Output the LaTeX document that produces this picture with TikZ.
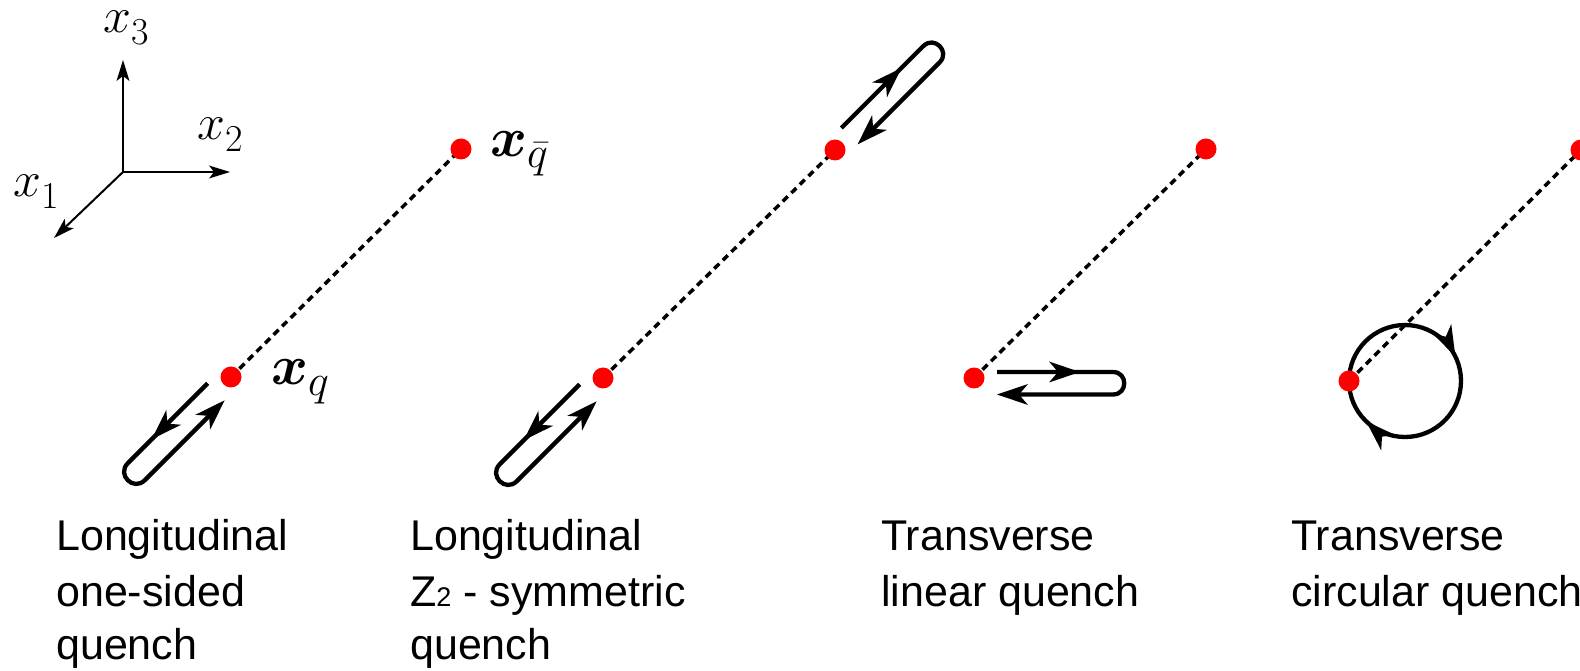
\RequirePackage{fix-cm}
\documentclass[tikz,border=0pt]{standalone}
\usepackage[no-math]{fontspec}
\usepackage{bm}
\newfontfamily\capfont{Liberation Sans}
\newcommand{\mysub}[3]{\raisebox{-#3}{\fontsize{#1}{#1}\selectfont$#2$}}
\usetikzlibrary{decorations.markings}

\newcommand{\hairpin}[7]{% dot, angle, a (outgoing offset), b (return offset), start, end, mid-arrow tip
  \begin{scope}[shift={(#1)},rotate=#2]
    \pgfmathsetmacro\hpk{abs((#3)-(#4))*2/3}
    \draw[hp] (#5,#3) -- (#6,#3) .. controls (#6+\hpk,#3) and (#6+\hpk,#4) .. (#6,#4) -- (#5+12,#4);
    \pic[transform shape] at (#7,#3) {bighead};
    \pic[transform shape,rotate=180] at (#5,#4) {bighead};
  \end{scope}}

\begin{document}
\begin{tikzpicture}[x=1pt,y=1pt,
  axisln/.style={line width=2pt,shorten >=8pt},
  dashln/.style={line width=3.5pt,dash pattern=on 7pt off 5pt},
  dot/.style={circle,fill=red,draw=none,inner sep=0pt,minimum size=21pt},
  hp/.style={line width=4.3pt},
  bighead/.pic={\fill (0,0) -- (-31,10.5) -- (-22,0) -- (-31,-10.5) -- cycle;},
  axhead/.pic={\fill (0,0) -- (-21,6.5) -- (-16,0) -- (-21,-6.5) -- cycle;},
  captxt/.style={anchor=base west,inner sep=0pt,font=\capfont\fontsize{43}{56}\selectfont},
  mlab/.style={anchor=base west,inner sep=0pt,font=\fontsize{50}{60}\selectfont},
  blab/.style={anchor=base west,inner sep=0pt,font=\fontsize{56}{67}\selectfont}]

\useasboundingbox (0,0) rectangle (1580,670);

% ---- axes
\coordinate (O) at (123,498);
\coordinate (e3) at (123,610);
\coordinate (e2) at (230,498);
\coordinate (e1) at (54,432);
\draw[axisln] (O) -- (e3);
\draw[axisln] (O) -- (e2);
\draw[axisln] (O) -- (e1);
\pic[rotate=90] at (e3) {axhead};
\pic at (e2) {axhead};
\pic[rotate=223.7] at (e1) {axhead};
\node[mlab] (l3) at (103,637) {$x_{\mysub{38}{3}{4pt}}$};
\node[mlab] (l2) at (197,530) {$x_{\mysub{38}{2}{4pt}}$};
\node[mlab] (l1) at (13,473) {$x_{\mysub{38}{1}{4pt}}$};

% ---- quark positions
\coordinate (q1) at (231,293);  \coordinate (qb1) at (461,521);
\coordinate (q2) at (603,292);  \coordinate (qb2) at (835,520);
\coordinate (q3) at (974,292);  \coordinate (qb3) at (1206,521);
\coordinate (q4) at (1349,289); \coordinate (qb4) at (1581,520);

\draw[dashln] (q1) -- (qb1);
\draw[dashln] (q2) -- (qb2);
\draw[dashln] (q3) -- (qb3);
\draw[dashln] (q4) -- (qb4);

% ---- quench paths
\hairpin{q1}{225}{-12}{12}{21}{134}{100}
\hairpin{q2}{225}{-12}{12}{21}{134}{100}
\hairpin{qb2}{45}{11}{-12}{20}{136}{105}
\hairpin{q3}{0}{6}{-16.5}{23}{139}{106}

\coordinate (cc) at (1405,289);
\draw[hp,postaction={decorate},decoration={markings,
    mark=at position 0.372 with {\fill (0,0) -- (-31,10.5) -- (-22,0) -- (-31,-10.5) -- cycle;},
    mark=at position 0.928 with {\fill (0,0) -- (-31,10.5) -- (-22,0) -- (-31,-10.5) -- cycle;}}]
  (cc) ++(0:56) arc[start angle=0,delta angle=-360,radius=56];

% ---- dots
\node[dot] (dq1) at (q1) {};  \node[dot] (dqb1) at (qb1) {};
\node[dot] (dq2) at (q2) {};  \node[dot] (dqb2) at (qb2) {};
\node[dot] (dq3) at (q3) {};  \node[dot] (dqb3) at (qb3) {};
\node[dot] (dq4) at (q4) {};  \node[dot] (dqb4) at (qb4) {};

% ---- position labels
\node[blab] (lq) at (271,285) {$\bm{x}_{\mysub{44}{q}{2pt}}$};
\node[blab] (lqb) at (490,513) {$\bm{x}_{\mysub{44}{\bar q}{2pt}}$};

% ---- captions
\node[captxt] (c1a) at (56,120) {Longitudinal};
\node[captxt] (c1b) at (56,64) {one-sided};
\node[captxt] (c1c) at (56,11) {quench};

\node[captxt] (c2a) at (410,120) {Longitudinal};
\node[captxt] (c2b) at (410,64) {Z{\fontsize{27}{30}\selectfont 2} - symmetric};
\node[captxt] (c2c) at (410,11) {quench};

\node[captxt] (c3a) at (881,120) {Transverse};
\node[captxt] (c3b) at (881,64) {linear quench};

\node[captxt] (c4a) at (1291,120) {Transverse};
\node[captxt] (c4b) at (1291,64) {circular quench};
\end{tikzpicture}
\end{document}
